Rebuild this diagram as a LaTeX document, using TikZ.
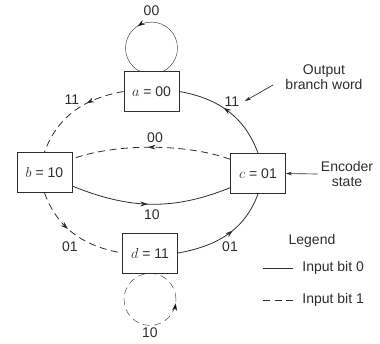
\documentclass[tikz,border=0pt]{standalone}
\usepackage{fontspec}
\setmainfont{Liberation Sans}
\usetikzlibrary{arrows.meta,decorations.markings,backgrounds}
\definecolor{ink}{HTML}{2E2E2E}
\begin{document}
\begin{tikzpicture}[x=1pt, y=1pt, font=\fontsize{14}{15}\selectfont, color=ink, line width=0.8pt,
  state/.style={draw=ink, fill=white, minimum width=55pt, minimum height=40pt, inner sep=0pt},
  bitzero/.style={draw=ink},
  bitone/.style={draw=ink, dash pattern=on 7pt off 4.5pt},
  tipat/.style={postaction={decorate}, decoration={markings, mark=at position #1 with {\arrow{Stealth[length=7.5pt,width=5pt]}}}},
  lbl/.style={inner sep=0pt},
  pointer/.style={draw=ink, line width=0.65pt, -{Stealth[length=6pt,width=3.5pt]}}
]
\useasboundingbox (0,0) rectangle (380,343);

% encoder states
\node[state] (a) at (151.5,251.5) {$a$ = 00};
\node[state] (b) at (44.5,170.5) {$b$ = 10};
\node[state] (c) at (258,169.5) {$c$ = 01};
\node[state] (d) at (150,90) {$d$ = 11};

% white page and the two self-loops behind the state boxes
\begin{scope}[on background layer]
  \fill[white] (0,0) rectangle (380,343);
  \draw[bitzero, tipat=0.34] ([yshift=23pt]a.north) circle[radius=26pt];
  \draw[bitone, tipat=0.976] ([yshift=-26pt]d.south) circle[radius=26pt];
\end{scope}

% transitions
\draw[bitone, tipat=0.37] (a.west) to[out=190, in=70] (b.north);
\draw[bitzero, tipat=0.55] (c.north) to[out=110, in=-10] (a.east);
\draw[bitone, tipat=0.42] (b.south) to[out=-70, in=170] (d.west);
\draw[bitzero, tipat=0.57] (d.east) to[out=10, in=-110] (c.south);
\draw[bitzero, tipat=0.48] (b.-26) to[out=-22, in=202] (c.207);
\draw[bitone, tipat=0.52] (c.153) to[out=160, in=20, looseness=0.75] (b.26);

% branch words
\node[lbl] (waa) at (151.5,332) {00};
\node[lbl] (wdd) at (150,10) {10};
\node[lbl] (wab) at (72,243) {11};
\node[lbl] (wca) at (232,241) {11};
\node[lbl] (wcb) at (155,205) {00};
\node[lbl] (wbc) at (152,128) {10};
\node[lbl] (wbd) at (70,96) {01};
\node[lbl] (wdc) at (230,96) {01};

% annotations
\node[lbl, align=center] (ob) at (324,266) {Output\\branch word};
\coordinate (obtail) at (273,258);
\coordinate (obtip) at (245,242);
\draw[pointer] (obtail) -- (obtip);

\node[lbl, align=center] (es) at (347,169) {Encoder\\state};
\draw[pointer] ([xshift=-3pt]es.west) -- (c.east);

% legend
\node[lbl] (leg) at (312,102) {Legend};
\coordinate (s0) at (263,75);
\coordinate (e0) at (293,75);
\draw[bitzero] (s0) -- (e0);
\node[lbl, anchor=west] (t0) at (302,75) {Input bit 0};
\coordinate (s1) at (263,43);
\coordinate (e1) at (293,43);
\draw[bitone] (s1) -- (e1);
\node[lbl, anchor=west] (t1) at (302,43) {Input bit 1};
\end{tikzpicture}
\end{document}
